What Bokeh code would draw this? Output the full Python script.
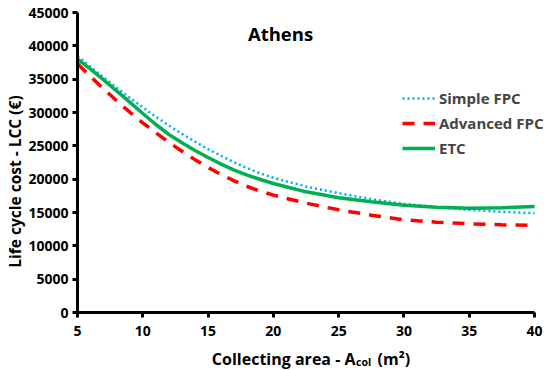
import math
from bokeh.plotting import figure
from bokeh.models import Label, Legend, LegendItem, FixedTicker, Range1d
from bokeh.embed import file_html
from bokeh.resources import INLINE

# Data
area = [5, 6, 7, 8, 9, 10, 11, 12, 13, 14, 15, 16, 17, 18, 19, 20,
        22.5, 25, 27.5, 30, 32.5, 35, 37.5, 40]
simple_fpc = [38450, 36850, 35270, 33720, 32220, 30770, 29370, 28040, 26790,
              25620, 24520, 23490, 22530, 21650, 20870, 20200,
              18900, 17900, 17000, 16300, 15800, 15400, 15100, 14900]
advanced_fpc = [37300, 35400, 33550, 31750, 30050, 28450, 26950, 25530, 24190,
                22930, 21750, 20700, 19750, 18900, 18200, 17600,
                16400, 15400, 14600, 13900, 13550, 13300, 13150, 13050]
etc = [38000, 36500, 34900, 33250, 31550, 29850, 28200, 26700, 25450,
       24300, 23250, 22250, 21350, 20600, 19950, 19350,
       18100, 17200, 16600, 16100, 15800, 15650, 15700, 15900]
x_ticks = [5, 10, 15, 20, 25, 30, 35, 40]
y_ticks = [0, 5000, 10000, 15000, 20000, 25000, 30000, 35000, 40000, 45000]

FONT = "Open Sans"
W, H = 550, 370
# plot area in canvas pixels
PL, PR, PT, PB = 77, 534, 12, 312
xs = (PR - PL) / (40 - 5)
ys = (PB - PT) / 45000

p = figure(width=W, height=H, output_backend="svg", toolbar_location=None,
           x_range=Range1d(5 - PL / xs, 40 + (W - PR) / xs),
           y_range=Range1d(0 - (H - PB) / ys, 45000 + PT / ys),
           min_border=0)
p.outline_line_color = None
p.grid.visible = False
p.background_fill_color = "white"
p.border_fill_color = "white"

p.xaxis.fixed_location = 0
p.yaxis.fixed_location = 5
p.xaxis.bounds = (5, 40)
p.yaxis.bounds = (0, 45000)

for ax in (p.xaxis[0], p.yaxis[0]):
    ax.axis_line_width = 3
    ax.axis_line_color = "black"
    ax.major_tick_line_width = 3
    ax.major_tick_line_color = "black"
    ax.major_tick_out = 5
    ax.major_tick_in = 0
    ax.minor_tick_line_color = None
    ax.major_label_text_font = FONT
    ax.major_label_text_font_style = "bold"
    ax.major_label_text_font_size = "14px"
    ax.major_label_text_color = "black"
p.xaxis[0].ticker = FixedTicker(ticks=x_ticks)
p.yaxis[0].ticker = FixedTicker(ticks=y_ticks)
p.xaxis[0].major_label_standoff = 8
p.yaxis[0].major_label_standoff = 4

r_simple = p.line(area, simple_fpc, line_color="#00B0F0", line_width=2.6,
                  line_dash="2 3")
r_adv = p.line(area, advanced_fpc, line_color="#FF0000", line_width=3.5,
               line_dash="12 9")
r_etc = p.line(area, etc, line_color="#00B050", line_width=3.5)

legend = Legend(items=[LegendItem(label="Simple FPC", renderers=[r_simple]),
                       LegendItem(label="Advanced FPC", renderers=[r_adv]),
                       LegendItem(label="ETC", renderers=[r_etc])],
                location=(402, H - 158))
legend.label_text_font = FONT
legend.label_text_font_style = "bold"
legend.label_text_font_size = "15px"
legend.glyph_width = 33
legend.glyph_height = 20
legend.label_height = 20
legend.spacing = 5
legend.padding = 0
legend.margin = 0
legend.label_standoff = 4
legend.border_line_alpha = 0
legend.background_fill_alpha = 0
p.add_layout(legend)

def lab(x, y, text, size, align="left", angle=0, baseline="alphabetic"):
    p.add_layout(Label(x=x, y=H - y, x_units="screen", y_units="screen",
                       text=text, angle=angle, text_font=FONT,
                       text_font_style="bold", text_font_size=size,
                       text_align=align, text_baseline=baseline,
                       text_color="black"))

lab(280, 33, "Athens", "18.5px", align="center")
lab(14, 181, "Life cycle cost - LCC (€)", "15.5px", align="center",
    angle=math.pi / 2, baseline="middle")
lab(355, 358, "Collecting area - A", "16px", align="right")
lab(355.5, 361, "col", "10.5px")
lab(377, 358, "(m²)", "16px")

open("out.html", "w").write(file_html(p, INLINE))
